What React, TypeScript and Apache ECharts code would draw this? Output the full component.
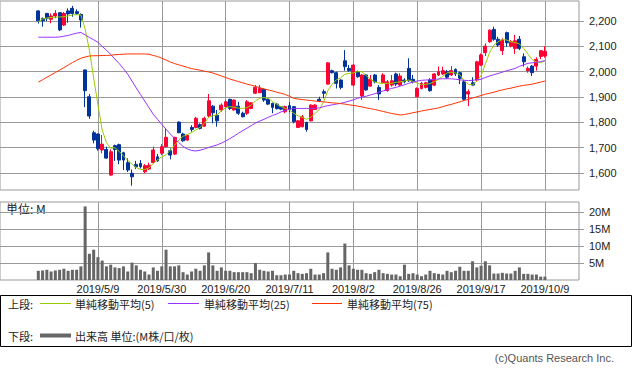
import React, { useEffect, useRef } from "react";
import * as echarts from "echarts";

// Trading days (Tokyo), 2019/4/11 .. 2019/10/9
const DATES = [
  "2019/4/11","2019/4/12","2019/4/15","2019/4/16","2019/4/17","2019/4/18","2019/4/19","2019/4/22","2019/4/23","2019/4/24",
  "2019/4/25","2019/4/26","2019/5/7","2019/5/8","2019/5/9","2019/5/10","2019/5/13","2019/5/14","2019/5/15","2019/5/16",
  "2019/5/17","2019/5/20","2019/5/21","2019/5/22","2019/5/23","2019/5/24","2019/5/27","2019/5/28","2019/5/29","2019/5/30",
  "2019/5/31","2019/6/3","2019/6/4","2019/6/5","2019/6/6","2019/6/7","2019/6/10","2019/6/11","2019/6/12","2019/6/13",
  "2019/6/14","2019/6/17","2019/6/18","2019/6/19","2019/6/20","2019/6/21","2019/6/24","2019/6/25","2019/6/26","2019/6/27",
  "2019/6/28","2019/7/1","2019/7/2","2019/7/3","2019/7/4","2019/7/5","2019/7/8","2019/7/9","2019/7/10","2019/7/11",
  "2019/7/12","2019/7/16","2019/7/17","2019/7/18","2019/7/19","2019/7/22","2019/7/23","2019/7/24","2019/7/25","2019/7/26",
  "2019/7/29","2019/7/30","2019/7/31","2019/8/1","2019/8/2","2019/8/5","2019/8/6","2019/8/7","2019/8/8","2019/8/9",
  "2019/8/13","2019/8/14","2019/8/15","2019/8/16","2019/8/19","2019/8/20","2019/8/21","2019/8/22","2019/8/23","2019/8/26",
  "2019/8/27","2019/8/28","2019/8/29","2019/8/30","2019/9/2","2019/9/3","2019/9/4","2019/9/5","2019/9/6","2019/9/9",
  "2019/9/10","2019/9/11","2019/9/12","2019/9/13","2019/9/17","2019/9/18","2019/9/19","2019/9/20","2019/9/24","2019/9/25",
  "2019/9/26","2019/9/27","2019/9/30","2019/10/1","2019/10/2","2019/10/3","2019/10/4","2019/10/7","2019/10/8","2019/10/9",
];

const OPEN = [
  2240,2210,2230,2207,2220,2233,2184,2240,2250,2237, 2226,2007,1901,1759,1754,1691,1693,1592,1708,1712,
  1680,1641,1599,1634,1638,1605,1616,1641,1664,1678, 1704,1688,1675,1801,1754,1730,1780,1780,1791,1785,
  1825,1864,1828,1849,1862,1891,1849,1864,1836,1836, 1855,1915,1917,1930,1891,1875,1872,1862,1842,1866,
  1862,1780,1783,1800,1806,1851,1891,1921,1951,2004, 1996,1967,2043,2013,1947,2000,1904,1987,1943,1987,
  1938,1956,1925,1947,1991,1947,1967,2013,1970,1901, 1934,1938,1967,1947,1987,1991,2000,1987,2009,1996,
  1960,1912,1956,1967,2026,2075,2118,2167,2128,2083, 2154,2101,2092,2128,2059,2004,2022,2022,2060,2062,
];
const CLOSE = [
  2201,2201,2211,2220,2230,2165,2230,2228,2230,2230, 2204,1925,1825,1730,1696,1714,1659,1684,1693,1651,
  1651,1612,1585,1625,1625,1629,1631,1691,1648,1704, 1741,1671,1741,1759,1727,1749,1772,1816,1776,1816,
  1885,1838,1806,1868,1881,1855,1888,1836,1822,1881, 1877,1938,1934,1888,1872,1859,1854,1852,1862,1851,
  1803,1806,1822,1772,1868,1868,1885,1915,2035,1996, 1954,1938,2020,2004,2026,1980,1987,1928,1970,1960,
  1912,1987,1960,1964,1951,1983,1960,1964,1960,1934, 1954,1956,1925,1991,2000,2004,1978,2004,1991,1974,
  1891,1921,1947,2039,2066,2101,2164,2128,2105,2125, 2114,2118,2122,2092,2039,2013,1996,2049,2083,2080,
];
const LOW = [
  2190,2178,2200,2191,2211,2160,2180,2193,2217,2224, 2174,1860,1814,1717,1688,1678,1656,1589,1648,1635,
  1612,1604,1550,1616,1618,1599,1612,1638,1644,1671, 1701,1654,1671,1757,1723,1727,1763,1776,1772,1783,
  1820,1796,1783,1842,1859,1849,1846,1829,1820,1829, 1852,1912,1915,1881,1868,1836,1851,1848,1836,1840,
  1796,1778,1780,1763,1804,1849,1881,1895,1949,1993, 1934,1930,2004,2000,1943,1976,1888,1925,1941,1954,
  1888,1954,1921,1941,1943,1943,1954,1960,1954,1899, 1930,1934,1921,1943,1983,1987,1971,1983,1983,1951,
  1885,1864,1943,1960,2022,2062,2114,2122,2098,2066, 2098,2096,2070,2085,2020,1996,1983,2004,2049,2055,
];
const HIGH = [
  2242,2214,2232,2230,2243,2235,2236,2250,2260,2246, 2230,2008,1912,1767,1756,1750,1704,1693,1712,1716,
  1684,1658,1614,1648,1651,1635,1641,1704,1675,1714, 1776,1697,1743,1804,1759,1752,1789,1822,1796,1822,
  1912,1868,1849,1875,1888,1893,1891,1881,1842,1888, 1880,1947,1947,1934,1896,1877,1877,1864,1866,1880,
  1864,1809,1829,1802,1872,1872,1901,1930,2038,2008, 2000,1970,2085,2026,2030,2004,1991,1991,1987,1991,
  1947,1994,1967,1987,1996,1994,1974,2053,1987,1938, 1960,1960,1974,1994,2020,2020,2007,2022,2013,2000,
  1967,1930,1978,2043,2072,2112,2167,2178,2138,2132, 2158,2125,2145,2141,2072,2020,2026,2057,2085,2101,
];

const VOLUME_M = [
  2.7,2.8,3.0,2.5,2.8,3.0,3.3,2.7,3.0,3.0, 4.0,21.6,7.7,8.9,6.7,5.7,4.0,4.5,3.7,3.5,
  4.0,2.5,5.1,4.3,3.0,2.5,1.6,3.7,2.7,4.0, 8.9,4.0,4.0,4.3,2.3,1.6,2.5,3.3,2.7,4.3,
  8.1,4.3,2.7,3.7,2.7,2.7,2.3,2.3,2.3,2.3, 2.0,5.0,3.0,2.7,2.5,2.7,1.4,1.4,1.6,1.6,
  2.7,2.0,1.8,2.0,3.3,1.6,1.6,2.0,8.1,3.3, 3.0,3.7,10.7,4.3,3.3,3.0,3.0,2.0,1.8,2.3,
  3.0,2.0,1.8,1.6,1.6,1.1,4.5,1.8,2.0,1.6, 1.1,1.6,2.7,2.0,1.8,1.6,2.7,2.3,2.7,3.9,
  2.7,2.7,5.5,3.7,4.2,5.5,4.3,1.9,1.9,2.1, 1.9,1.9,2.7,3.7,1.8,1.8,1.6,1.6,1.0,1.0,
];

const MA5 = [
  2197,2208,2212,2214,2215,2216,2217,2220,2224,2225, 2224,2168,2085,1975,1870,1770,1720,1698,1700,1685,
  1668,1650,1635,1622,1614,1614,1620,1638,1652,1664, 1672,1690,1710,1730,1745,1752,1760,1770,1780,1796,
  1820,1826,1830,1845,1858,1862,1860,1856,1855,1858, 1868,1885,1895,1898,1895,1882,1872,1862,1855,1848,
  1836,1826,1820,1812,1820,1835,1850,1880,1925,1950, 1968,1975,1990,1993,1995,2000,2000,1985,1970,1960,
  1955,1954,1954,1954,1958,1960,1963,1967,1962,1955, 1948,1950,1953,1960,1970,1982,1995,1998,1995,1988,
  1965,1950,1948,1962,1985,2030,2075,2105,2118,2127, 2125,2118,2115,2110,2092,2070,2048,2038,2035,2043,
];
const MA25 = [
  2136,2136,2136,2136,2136,2137,2140,2143,2148,2152, 2155,2145,2135,2126,2116,2100,2085,2068,2050,2032,
  2012,1990,1963,1936,1910,1884,1858,1832,1812,1792, 1773,1754,1737,1720,1705,1695,1689,1687,1690,1695,
  1701,1706,1711,1718,1726,1736,1746,1757,1767,1777, 1787,1797,1805,1812,1820,1827,1833,1841,1847,1852,
  1855,1855,1855,1855,1855,1856,1857,1862,1866,1869, 1872,1875,1879,1884,1889,1895,1900,1903,1908,1913,
  1919,1924,1929,1934,1938,1943,1948,1954,1959,1963, 1966,1967,1968,1970,1971,1972,1972,1972,1970,1968,
  1966,1965,1966,1968,1970,1977,1983,1988,1993,1998, 2004,2008,2013,2021,2027,2033,2035,2037,2040,2044,
];
const MA75 = [
  1959,1968,1978,1987,1997,2006,2016,2026,2036,2045, 2053,2058,2062,2063,2063,2064,2064,2065,2067,2068,
  2069,2070,2070,2070,2070,2070,2069,2064,2060,2053, 2046,2038,2032,2027,2022,2017,2012,2009,2006,2002,
  1999,1995,1989,1983,1977,1971,1966,1961,1956,1951, 1947,1942,1937,1932,1928,1924,1919,1915,1910,1903,
  1895,1892,1890,1888,1886,1884,1882,1881,1879,1877, 1876,1874,1872,1869,1867,1864,1861,1857,1854,1851,
  1847,1843,1839,1835,1832,1829,1831,1834,1838,1841, 1845,1848,1851,1854,1857,1862,1867,1871,1876,1881,
  1886,1891,1896,1901,1906,1911,1915,1919,1924,1928, 1932,1935,1939,1943,1946,1948,1951,1955,1959,1963,
];

const LABEL_DATES = ["2019/5/9","2019/5/30","2019/6/20","2019/7/11","2019/8/2","2019/8/26","2019/9/17","2019/10/9"];
const PRICE_TICKS = [1600, 1700, 1800, 1900, 2000, 2100, 2200];
const VOLUME_TICKS = [5, 10, 15, 20];
const PAD_BEFORE = 9;
const PAD_AFTER = 8;

const UP = "#ff0033";
const DOWN = "#003399";
const GRID = "#999999";
const NUM_FONT = "Liberation Sans, Arial, sans-serif";
const JP_FONT = '"Noto Sans CJK JP", sans-serif';

export default function App() {
  const ref = useRef<HTMLDivElement>(null);
  useEffect(() => {
    if (!ref.current) return;
    const chart = echarts.init(ref.current, undefined, { renderer: "svg" });
    const before = Array.from({ length: PAD_BEFORE }, (_, i) => "pre" + i);
    const after = Array.from({ length: PAD_AFTER }, (_, i) => "post" + i);
    const cats = [...before, ...DATES, ...after];
    const padB = (arr: any[]) => [...before.map(() => "-"), ...arr, ...after.map(() => "-")];
    const candles = [
      ...before.map(() => ["-", "-", "-", "-"]),
      ...DATES.map((_, i) => [OPEN[i], CLOSE[i], LOW[i], HIGH[i]]),
      ...after.map(() => ["-", "-", "-", "-"]),
    ];
    const isLabel = (_i: number, v: string) => LABEL_DATES.indexOf(v) >= 0;

    const legendY1 = 303.5;
    const legendY2 = 335.5;
    const jpText = (x: number, y: number, text: string) => ({
      type: "text", x, y,
      style: { text, fill: "#222", font: `11px ${JP_FONT}`, verticalAlign: "middle", align: "left" },
    });
    const seg = (x1: number, x2: number, y: number, color: string, w: number) => ({
      type: "line", shape: { x1, y1: y, x2, y2: y }, style: { stroke: color, lineWidth: w },
    });

    chart.setOption({
      animation: false,
      backgroundColor: "#ffffff",
      grid: [
        { left: -1, right: 54, top: 1, height: 189, show: true, borderColor: GRID, borderWidth: 1 },
        { left: -1, right: 54, top: 202, height: 78, show: true, borderColor: GRID, borderWidth: 1 },
      ],
      xAxis: [
        {
          type: "category", gridIndex: 0, data: cats, boundaryGap: false,
          axisLine: { show: false }, axisTick: { show: false }, axisLabel: { show: false },
          splitLine: { show: true, interval: isLabel, lineStyle: { color: GRID, width: 1 } },
        },
        {
          type: "category", gridIndex: 1, data: cats, boundaryGap: false,
          axisLine: { show: false }, axisTick: { show: false },
          axisLabel: { show: true, interval: isLabel, color: "#222", fontSize: 11, fontFamily: NUM_FONT, margin: 3 },
          splitLine: { show: true, interval: isLabel, lineStyle: { color: GRID, width: 1 } },
        },
      ],
      yAxis: [
        {
          type: "value", gridIndex: 0, position: "right", min: 1533, max: 2279, scale: true,
          axisLine: { show: false },
          axisTick: { show: true, length: 5, lineStyle: { color: GRID }, customValues: PRICE_TICKS },
          axisLabel: {
            customValues: PRICE_TICKS, margin: 10, color: "#222", fontSize: 11, fontFamily: NUM_FONT,
            formatter: (v: number) => v.toLocaleString("en-US"),
          },
          splitLine: { show: true, lineStyle: { color: GRID, width: 1 } },
        },
        {
          type: "value", gridIndex: 1, position: "right", min: 0, max: 22.9,
          axisLine: { show: false },
          axisTick: { show: true, length: 5, lineStyle: { color: GRID }, customValues: VOLUME_TICKS },
          axisLabel: {
            customValues: VOLUME_TICKS, margin: 10, color: "#222", fontSize: 11, fontFamily: NUM_FONT,
            formatter: (v: number) => v + "M",
          },
          splitLine: { show: true, lineStyle: { color: GRID, width: 1 } },
        },
      ],
      series: [
        {
          type: "candlestick", name: "price", xAxisIndex: 0, yAxisIndex: 0, data: candles, barWidth: 3.4,
          itemStyle: { color: UP, color0: DOWN, borderColor: UP, borderColor0: DOWN, borderWidth: 1 },
        },
        {
          type: "line", name: "MA5", xAxisIndex: 0, yAxisIndex: 0, data: padB(MA5), showSymbol: false,
          symbol: "none", lineStyle: { color: "#99cc00", width: 1 }, z: 3,
        },
        {
          type: "line", name: "MA25", xAxisIndex: 0, yAxisIndex: 0, data: padB(MA25), showSymbol: false,
          symbol: "none", lineStyle: { color: "#9933ff", width: 1 }, z: 3,
        },
        {
          type: "line", name: "MA75", xAxisIndex: 0, yAxisIndex: 0, data: padB(MA75), showSymbol: false,
          symbol: "none", lineStyle: { color: "#ff3300", width: 1 }, z: 3,
        },
        {
          type: "bar", name: "volume", xAxisIndex: 1, yAxisIndex: 1, data: padB(VOLUME_M), barWidth: 3,
          itemStyle: { color: "#666666" },
        },
      ],
      graphic: [
        {
          type: "text", x: 6, y: 208,
          style: { text: "単位: M", fill: "#222", font: `12px ${JP_FONT}`, verticalAlign: "middle" },
        },
        {
          type: "rect", shape: { x: 0.5, y: 295.5, width: 631, height: 51 },
          style: { fill: "none", stroke: "#000", lineWidth: 1 },
        },
        jpText(8, legendY1, "上段:"),
        seg(40, 71, legendY1, "#99cc00", 1),
        jpText(75, legendY1, "単純移動平均(5)"),
        seg(168, 199, legendY1, "#9933ff", 1),
        jpText(204, legendY1, "単純移動平均(25)"),
        seg(312, 342, legendY1, "#ff3300", 1),
        jpText(347, legendY1, "単純移動平均(75)"),
        jpText(8, legendY2, "下段:"),
        seg(40, 71, legendY2, "#666666", 4),
        jpText(75, legendY2, "出来高 単位:(M株/口/枚)"),
        {
          type: "text", x: 614, y: 358,
          style: { text: "(c)Quants Research Inc.", fill: "#555", font: `11px ${NUM_FONT}`, verticalAlign: "middle", align: "right" },
        },
      ],
    });
    return () => chart.dispose();
  }, []);
  return (
    <div
      ref={ref}
      style={{ position: "absolute", left: 0, top: 0, width: 633, height: 372, background: "#fff" }}
    />
  );
}
